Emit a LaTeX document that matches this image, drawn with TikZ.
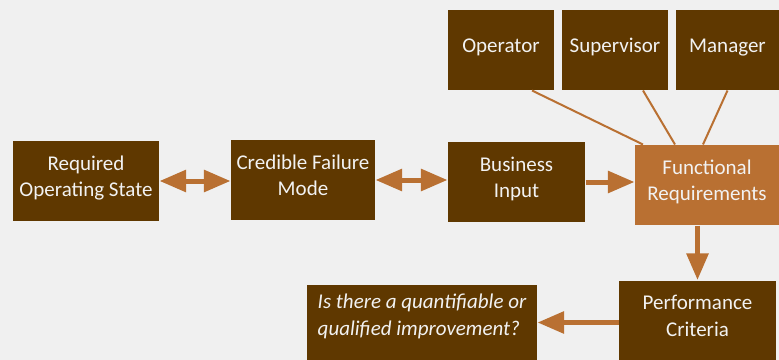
\documentclass[tikz,border=0pt]{standalone}
\usepackage{fontspec}
\setmainfont{Carlito}
\usetikzlibrary{arrows.meta,calc}

\definecolor{bgcol}{HTML}{F0F0F0}
\definecolor{brown}{HTML}{5F3800}
\definecolor{copper}{HTML}{B97032}
\definecolor{boxtext}{HTML}{F2F2F2}

\tikzset{every picture/.style={line width=0.75pt}}
\tikzset{
  textdrop/.style={execute at begin node={\rule{0pt}{11pt}},
    execute at end node={\rule[-#1]{0pt}{0pt}}},
  box/.style={fill=brown, text=boxtext, inner sep=0pt, align=center,
    font=\fontsize{15.75}{19.5}\selectfont, textdrop=7pt},
  keybox/.style={box, fill=copper},
  link/.style={draw=copper, line width=1.5pt},
  bigarrow/.style={draw=copper, line width=3.75pt,
    -{Triangle[length=20pt,width=16pt]}},
  twoway/.style={bigarrow, {Triangle[length=20pt,width=16pt]}-{Triangle[length=20pt,width=16pt]}}
}

\begin{document}
\begin{tikzpicture}[x=0.75pt,y=0.75pt,yscale=-1,xscale=1]

\useasboundingbox (0,0) rectangle (779,360);
\clip (0,0) rectangle (779,360);
\fill [bgcol] (0,0) rectangle (779,360);

% top row
\node [box, minimum width=106*0.75pt, minimum height=80*0.75pt] (op) at (501,50) {Operator};
\node [box, minimum width=106*0.75pt, minimum height=80*0.75pt] (sup) at (615,50) {Supervisor};
\node [box, minimum width=103*0.75pt, minimum height=80*0.75pt] (mgr) at (727.5,50) {Manager};

% middle row
\node [box, minimum width=146*0.75pt, minimum height=80*0.75pt] (ros) at (86,181) {Required\\Operating State};
\node [box, minimum width=144*0.75pt, minimum height=80*0.75pt] (cfm) at (303,180) {Credible Failure\\Mode};
\node [box, minimum width=137*0.75pt, minimum height=80*0.75pt] (bi) at (516.5,182) {Business\\Input};
\node [keybox, minimum width=144*0.75pt, minimum height=80*0.75pt] (fr) at (707,185) {Functional\\Requirements};

% bottom row
\node [box, minimum width=157*0.75pt, minimum height=80*0.75pt, font=\fontsize{15.75}{20.25}\selectfont, textdrop=1.5pt] (pc) at (697.5,320.5) {Performance\\Criteria};
\node [box, minimum width=230*0.75pt, minimum height=76*0.75pt, align=left, font=\fontsize{15.75}{20.25}\selectfont\itshape, textdrop=12pt] (q) at (422,322.5) {Is there a quantifiable or\\qualified improvement?};

% stakeholders into requirements
\draw [link] ($(op.south)+(31,0)$) -- ($(fr.north)+(-64,0)$);
\draw [link] ($(sup.south)+(28,0)$) -- ($(fr.north)+(-32,0)$);
\draw [link] (mgr.south) -- ($(fr.north)+(-4,0)$);

% flow
\draw [twoway] (ros.east) -- (ros.east -| cfm.west);
\draw [twoway] (cfm.east) -- (cfm.east -| bi.west);
\draw [bigarrow] (bi.east) -- (bi.east -| fr.west);
\draw [bigarrow] (fr.south -| pc.north) -- (pc.north);
\draw [bigarrow] (q.east -| pc.west) -- (q.east);

\end{tikzpicture}
\end{document}
